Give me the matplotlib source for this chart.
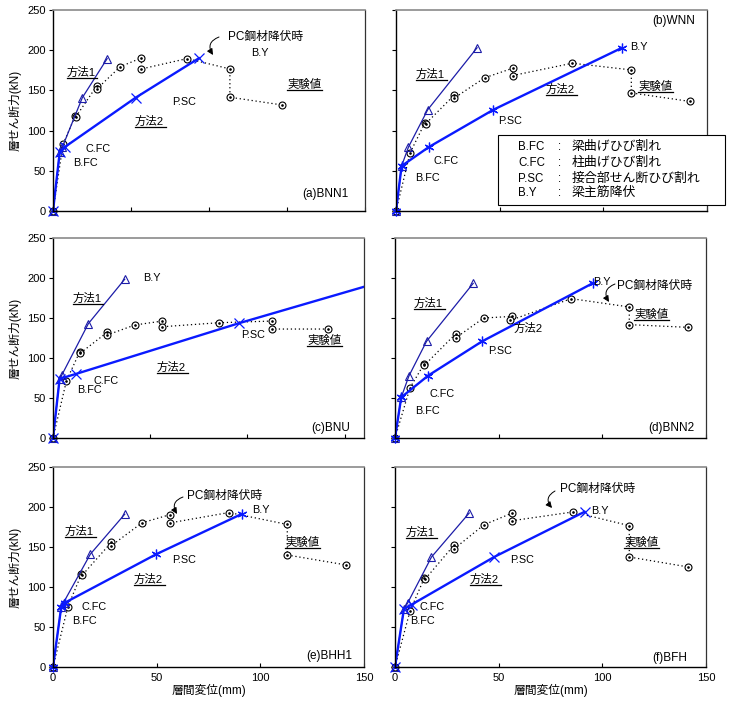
import matplotlib
matplotlib.use('Agg')
import matplotlib.pyplot as plt
from matplotlib.lines import Line2D
from matplotlib.patches import Rectangle, FancyArrowPatch

plt.rcParams['font.family'] = ['Liberation Sans', 'Noto Sans CJK JP']
plt.rcParams['axes.unicode_minus'] = False

# ---------------- data ----------------
panel_names = ['(a)BNN1', '(b)WNN', '(c)BNU', '(d)BNN2', '(e)BHH1', '(f)BFH']
y_ticks = [0, 50, 100, 150, 200, 250]
x_ticks = [0, 50, 100, 150]
x_max = [200, 150, 160, 150, 150, 150]

a_m1_x = [0, 4.3, 6.0, 18.8, 34.7]
a_m1_y = [0, 73, 79.5, 141, 189.5]
a_m2_x = [0, 4.3, 7.5, 53, 93.5]
a_m2_y = [0, 73, 79.5, 141, 190]
a_ex_x = [0, 6.4, 14.3, 14.6, 28.2, 28.2, 43.2, 56.7, 56.7, 86, 113.4, 113.4, 146.5]
a_ex_y = [0, 82.8, 118.5, 117, 156, 152, 179.6, 190.4, 176.7, 189.6, 176.7, 141.5, 132]

b_m1_x = [0, 2.7, 6.0, 15.3, 39.1]
b_m1_y = [0, 56, 79.5, 126, 203]
b_m2_x = [0, 2.7, 15.8, 47, 109]
b_m2_y = [0, 56, 79.5, 126, 203]
b_ex_x = [0, 6.8, 14.0, 14.3, 28.2, 28.2, 42.7, 56.3, 56.3, 85, 113.5, 113.5, 142]
b_ex_y = [0, 72.4, 110, 108.5, 144.4, 140.7, 165.6, 177.6, 168.5, 183.8, 175.5, 146.9, 136.2]

c_m1_x = [0, 3.4, 4.6, 18.2, 36.9]
c_m1_y = [0, 74, 79, 143, 198.5]
c_m2_x = [0, 3.4, 11.7, 95.7, 173.4]
c_m2_y = [0, 74, 80, 143.5, 198.5]
c_ex_x = [0, 6.9, 13.7, 14.0, 27.8, 27.8, 42, 56.3, 56.3, 85.4, 112.8, 112.8, 141.5]
c_ex_y = [0, 71.4, 107.5, 106, 132, 128.7, 141.2, 146.2, 139.1, 144.1, 146.2, 136.2, 136.2]

d_m1_x = [0, 3.0, 6.7, 15.2, 37.7]
d_m1_y = [0, 50.8, 77.5, 120.8, 193.3]
d_m2_x = [0, 3.0, 16.0, 42.0, 95.4]
d_m2_y = [0, 50.8, 78, 120.8, 193.5]
d_ex_x = [0, 7.2, 14.0, 14.2, 29.2, 29.2, 42.8, 56.5, 55.5, 85, 113, 113, 141.5]
d_ex_y = [0, 62.5, 92.5, 91, 130, 125, 150, 152, 147, 174.2, 163.8, 141.7, 138.3]

e_m1_x = [0, 4.0, 5.1, 18.0, 34.6]
e_m1_y = [0, 75.6, 80.6, 141, 191]
e_m2_x = [0, 4.0, 5.9, 49.8, 91.2]
e_m2_y = [0, 75.6, 80.6, 141, 191.5]
e_ex_x = [0, 7.2, 13.7, 14.0, 28.1, 28.1, 42.9, 56.6, 56.6, 84.9, 113, 113, 141.5]
e_ex_y = [0, 75.6, 116, 114.5, 155.7, 151.6, 180.2, 190.6, 180.2, 193.1, 178.2, 140, 127.5]

f_m1_x = [0, 4.3, 6.1, 17.6, 35.8]
f_m1_y = [0, 72.5, 80, 137.5, 192.5]
f_m2_x = [0, 4.3, 8.0, 47.8, 91.4]
f_m2_y = [0, 72.5, 78, 137.5, 194]
f_ex_x = [0, 7.2, 14.1, 14.4, 28.4, 28.4, 43, 56.6, 56.6, 85.8, 113, 113, 141.5]
f_ex_y = [0, 69.6, 111, 109.5, 152.1, 147.5, 177.9, 192.5, 182.9, 193.8, 176.7, 137.5, 125]

legend_codes = ['B.FC', 'C.FC', 'P.SC', 'B.Y']
legend_desc = ['梁曲げひび割れ', '柱曲げひび割れ', '接合部せん断ひび割れ', '梁主筋降伏']

series = [
    (a_m1_x, a_m1_y, a_m2_x, a_m2_y, a_ex_x, a_ex_y),
    (b_m1_x, b_m1_y, b_m2_x, b_m2_y, b_ex_x, b_ex_y),
    (c_m1_x, c_m1_y, c_m2_x, c_m2_y, c_ex_x, c_ex_y),
    (d_m1_x, d_m1_y, d_m2_x, d_m2_y, d_ex_x, d_ex_y),
    (e_m1_x, e_m1_y, e_m2_x, e_m2_y, e_ex_x, e_ex_y),
    (f_m1_x, f_m1_y, f_m2_x, f_m2_y, f_ex_x, f_ex_y),
]

# ---------------- layout ----------------
W, H = 730, 706
fig = plt.figure(figsize=(W / 100, H / 100), dpi=100)

def F(x, y):
    return (x / W, 1 - y / H)

# pixel boxes: left, top, right, bottom
boxes = [
    (53, 10, 365, 211), (396, 10, 707, 211),
    (53, 238, 364, 438), (395, 238, 706, 438),
    (53, 467, 364, 667), (395, 467, 706, 667),
]
m2_markers = ['x', (6, 2, 0), 'x', (6, 2, 0), (6, 2, 0), 'x']

C1 = '#1c1ca8'
C2 = '#0a1aff'

axes = []
for i, (l, t, r, b) in enumerate(boxes):
    ax = fig.add_axes([l / W, 1 - b / H, (r - l) / W, (b - t) / H])
    axes.append(ax)
    m1x, m1y, m2x, m2y, exx, exy = series[i]
    # experimental
    ax.plot(exx, exy, linestyle=(0, (1, 2.2)), color='black', lw=0.9,
            marker='o', ms=5, mfc='white', mec='black', mew=0.8, zorder=3,
            clip_on=False)
    ax.plot(exx, exy, linestyle='none', marker='.', ms=1.8, color='black',
            zorder=4, clip_on=False)
    # method 1
    ax.plot(m1x, m1y, color=C1, lw=0.9, marker='^', ms=5.5, mfc='none',
            mec=C1, mew=0.8, zorder=5, clip_on=False)
    # method 2
    ax.plot(m2x, m2y, color=C2, lw=1.7, zorder=6)
    # markers within the axes range; the origin marker is drawn unclipped
    vis = [k for k in range(len(m2x)) if m2x[k] <= x_max[i]]
    ax.plot([m2x[k] for k in vis], [m2y[k] for k in vis], linestyle='none',
            marker=m2_markers[i], ms=7, mec=C2, mew=0.9, zorder=7, clip_on=False)

    ax.set_xlim(0, x_max[i])
    ax.set_ylim(0, 250)
    ax.set_yticks(y_ticks)
    xt = [v for v in x_ticks if v <= x_max[i]]
    if x_max[i] == 200:
        xt = xt + [200]
    ax.set_xticks(xt)
    ax.tick_params(axis='y', direction='out', length=3, width=0.8, labelsize=8, pad=2)
    ax.tick_params(axis='x', direction='in', length=3, width=0.8, labelsize=8, pad=4)
    if i % 2 == 1:
        ax.tick_params(axis='y', labelleft=False)
    else:
        ax.set_ylabel('層せん断力(kN)', fontsize=8.5, labelpad=4)
    if i < 4:
        ax.tick_params(axis='x', labelbottom=False)
    else:
        ax.set_xlabel('層間変位(mm)', fontsize=8.5, labelpad=1)
    for s in ['left', 'bottom']:
        ax.spines[s].set_color('black')
        ax.spines[s].set_linewidth(1.0)
    ax.spines['top'].set_color('#8a8a8a')
    ax.spines['top'].set_linewidth(1.2)
    ax.spines['right'].set_color('#333333')
    ax.spines['right'].set_linewidth(0.9)
    for sp in ax.spines.values():
        sp.set_zorder(10)

# ---------------- annotations ----------------
def T(x, y, s, size=7.8, **kw):
    fig.text(x / W, 1 - y / H, s, fontsize=size, ha='left', va='center', **kw)

def U(x, y, s, w, size=8.2):
    T(x, y, s, size=size)
    fig.add_artist(Line2D([x / W, (x + w) / W], [1 - (y + 6) / H] * 2,
                          color='black', lw=0.9))

def ARR(x0, y0, x1, y1, rad=0.6):
    fig.add_artist(FancyArrowPatch(posA=F(x0, y0), posB=F(x1, y1),
                                   transform=fig.transFigure,
                                   arrowstyle='-|>', connectionstyle=f'arc3,rad={rad}',
                                   mutation_scale=9, color='black', lw=0.7,
                                   shrinkA=0, shrinkB=0))

# (a)
U(67, 72, '方法1', 30)
U(135, 121, '方法2', 31)
U(287, 84, '実験値', 35)
T(172, 102, 'P.SC')
T(85, 149, 'C.FC')
T(73, 163, 'B.FC')
T(228, 37, 'PC鋼材降伏時', size=8.5)
T(251, 53, 'B.Y')
T(302, 194, panel_names[0], size=8.5)
ARR(219, 37, 213, 55)

# (b)
U(416, 74, '方法1', 31)
U(546, 89, '方法2', 31)
U(638, 86, '実験値', 35)
T(498, 121, 'P.SC')
T(434, 161, 'C.FC')
T(415, 178, 'B.FC')
T(630, 47, 'B.Y')
T(652, 21, panel_names[1], size=8.5)

# legend box in (b)
fig.add_artist(Rectangle(F(498, 205), 227 / W, 70 / H, transform=fig.transFigure,
                         facecolor='white', edgecolor='black', lw=0.8, zorder=20))
for k, yy in enumerate([147, 163, 179, 193]):
    fig.text(518 / W, 1 - yy / H, legend_codes[k], fontsize=8.3, ha='left', va='center', zorder=21)
    fig.text(558 / W, 1 - yy / H, ':', fontsize=8.3, ha='left', va='center', zorder=21)
    fig.text(572 / W, 1 - yy / H, legend_desc[k], fontsize=9.3, ha='left', va='center', zorder=21)

# (c)
T(143, 278, 'B.Y')
U(73, 298, '方法1', 30)
U(157, 367, '方法2', 31)
T(241, 335, 'P.SC')
T(93, 381, 'C.FC')
T(77, 390, 'B.FC')
U(307, 340, '実験値', 35)
T(311, 428, panel_names[2], size=8.5)

# (d)
U(414, 303, '方法1', 31)
T(514, 328, '方法2', size=8.2)
T(488, 351, 'P.SC')
T(429, 394, 'C.FC')
T(415, 411, 'B.FC')
T(593, 282, 'B.Y')
T(617, 286, 'PC鋼材降伏時', size=8.5)
U(634, 314, '実験値', 35)
T(648, 428, panel_names[3], size=8.5)
ARR(615, 284, 609, 302)

# (e)
T(187, 496, 'PC鋼材降伏時', size=8.5)
U(65, 531, '方法1', 31)
U(134, 579, '方法2', 31)
T(172, 560, 'P.SC')
T(82, 607, 'C.FC')
T(72, 621, 'B.FC')
T(252, 510, 'B.Y')
U(285, 542, '実験値', 35)
T(306, 656, panel_names[4], size=8.5)
ARR(183, 497, 177, 514)

# (f)
T(560, 489, 'PC鋼材降伏時', size=8.5)
U(406, 532, '方法1', 31)
U(470, 579, '方法2', 31)
T(510, 560, 'P.SC')
T(420, 607, 'C.FC')
T(410, 621, 'B.FC')
T(591, 511, 'B.Y')
U(624, 542, '実験値', 35)
T(652, 658, panel_names[5], size=8.5)
ARR(555, 491, 552, 508)

fig.savefig('out.png', dpi=100)
